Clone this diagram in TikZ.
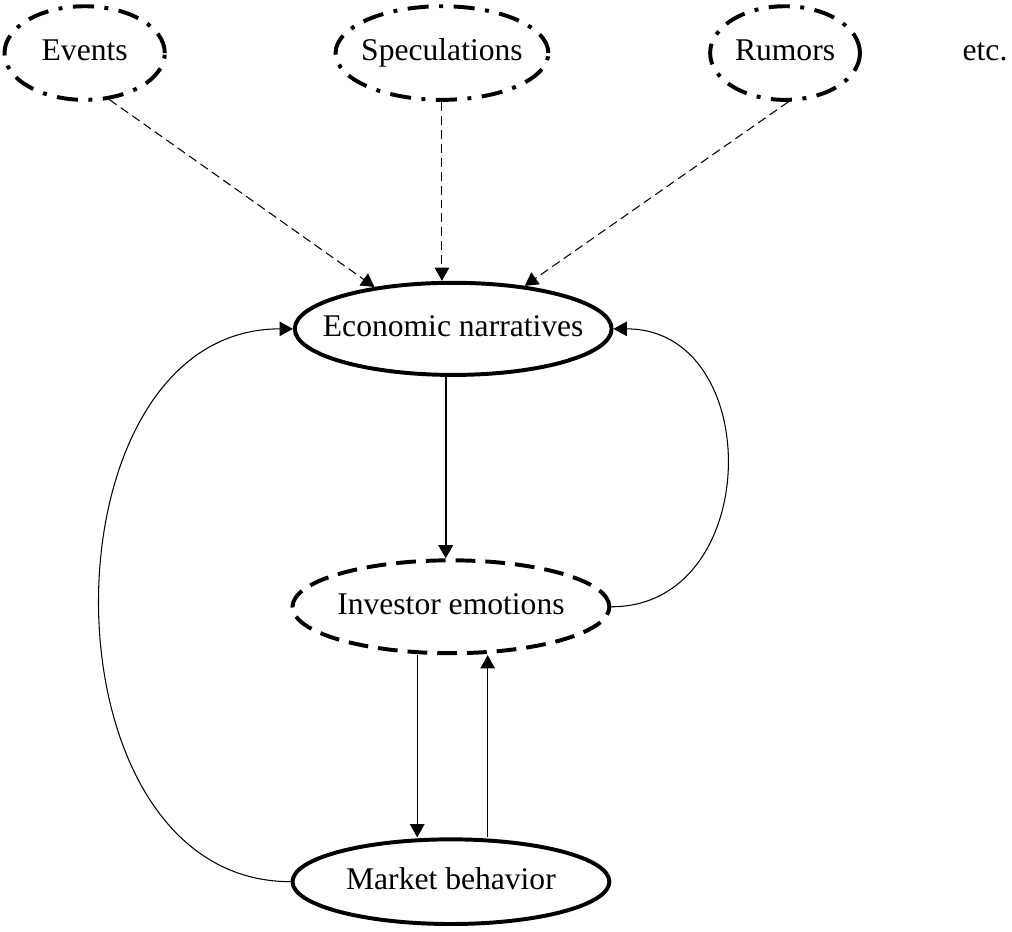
\documentclass[tikz,border=0pt]{standalone}
\usepackage{fontspec}
\setmainfont{Liberation Serif}
\usepackage{tikz}
\usetikzlibrary{shapes.geometric,arrows.meta,calc,positioning}
\tikzset{
	-{Triangle[length=5pt,width=5.5pt]},auto,thin,font=\fontsize{12}{14}\selectfont,
	state/.style ={ellipse, draw, line width=1.5pt, inner xsep=-7pt, inner ysep=0pt, text height=0.8em, text depth=0.2em, minimum width = 4.23cm},
	source/.style ={state, dash pattern=on 8pt off 4pt on 1.5pt off 4pt, minimum height=1.25cm},
	feeling/.style ={state, dash pattern=on 7.5pt off 3.8pt},
	hint/.style={dash pattern=on 3.4pt off 1.9pt}
}

\begin{document}
\begin{tikzpicture}
    \useasboundingbox (0,0) rectangle (13.51,-12.43);
    \node[source, minimum width=2.14cm] (ev) at (1.13,-0.708) {Events};
    \node[source, minimum width=2.84cm] (sp) at (5.90,-0.708) {Speculations};
    \node[source, minimum width=2.0cm] (ru) at (10.48,-0.708) {Rumors};
    \node[text height=0.8em, text depth=0.2em] (etc) at (13.15,-0.708) {etc.};

    \node[state, minimum height=1.23cm] (en) at (6.05,-4.39) {Economic narratives};
    \node[feeling, minimum height=1.24cm] (ie) at (6.02,-8.10) {Investor emotions};
    \node[state, minimum height=1.13cm] (mb) at (6.02,-11.77) {Market behavior};

    \path [hint] (ev.-62) edge (en.152);
    \path [hint] (sp.south) edge (sp.south |- en.north);
    \path [hint] (ru.-86) edge (en.31);
    \path [line width=0.8pt] ([xshift=-0.1cm]en.south) edge ([xshift=-0.1cm]en.south |- ie.north);
    \path ([xshift=-0.45cm]ie.south) edge ([xshift=-0.45cm]ie.south |- mb.north);
    \path ([xshift=0.49cm]mb.north) edge ([xshift=0.49cm]mb.north |- ie.south);
    \path (mb.west) edge [out=180, in=180, looseness=1.18] (en.west);
    \path (ie.east) edge [out=0, in=0, looseness=1.4] (en.east);
\end{tikzpicture}
\end{document}
